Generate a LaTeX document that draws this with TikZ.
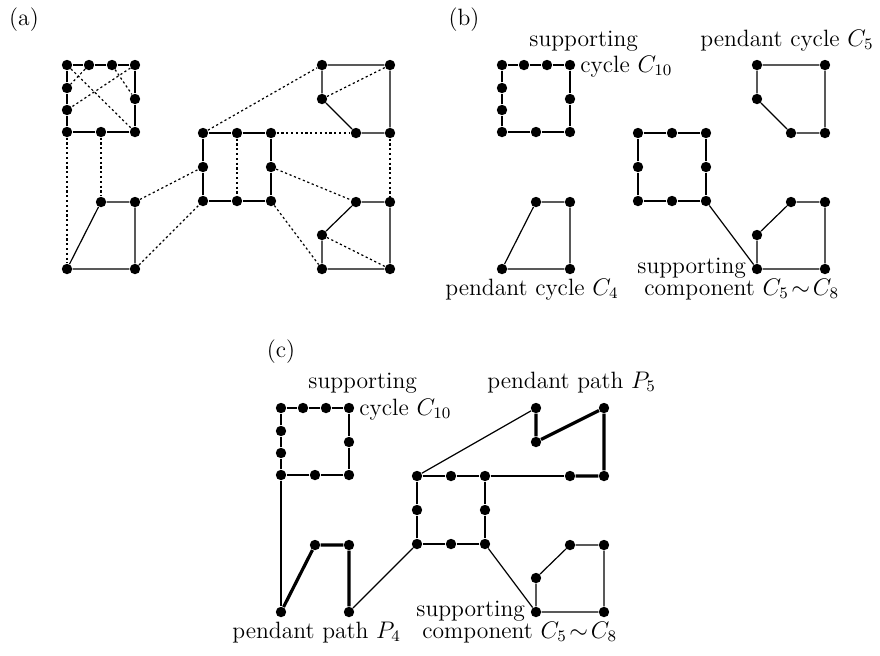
\documentclass[tikz,border=0pt]{standalone}
\tikzset{
  v/.style={circle,fill=black,inner sep=0pt,minimum size=5.2pt},
  e/.style={line width=0.6pt},
  dt/.style={line width=0.6pt,dash pattern=on 1.1pt off 1.3pt},
  tk/.style={line width=1.6pt},
  lab/.style={anchor=base west,inner sep=0pt,font=\fontsize{11.8}{14}\selectfont},
  plab/.style={inner sep=0pt,font=\fontsize{11.8}{14}\selectfont},
}
\newcommand\mkverts[1]{%
  \node[v] (#1t1) at (67,65) {};
  \node[v] (#1t2) at (89,65) {};
  \node[v] (#1t3) at (112,65) {};
  \node[v] (#1t4) at (135,65) {};
  \node[v] (#1t5) at (135,99) {};
  \node[v] (#1t6) at (135,132) {};
  \node[v] (#1t7) at (101,132) {};
  \node[v] (#1t8) at (67,132) {};
  \node[v] (#1t9) at (67,110) {};
  \node[v] (#1t10) at (67,88) {};
  \node[v] (#1m1) at (203,133) {};
  \node[v] (#1m2) at (237,133) {};
  \node[v] (#1m3) at (271,133) {};
  \node[v] (#1m4) at (271,167) {};
  \node[v] (#1m5) at (271,201) {};
  \node[v] (#1m6) at (237,201) {};
  \node[v] (#1m7) at (203,201) {};
  \node[v] (#1m8) at (203,167) {};
  \node[v] (#1r1) at (322,65) {};
  \node[v] (#1r2) at (390,65) {};
  \node[v] (#1r3) at (390,133) {};
  \node[v] (#1r4) at (356,133) {};
  \node[v] (#1r5) at (322,99) {};
  \node[v] (#1l1) at (101,202) {};
  \node[v] (#1l2) at (135,202) {};
  \node[v] (#1l3) at (135,269) {};
  \node[v] (#1l4) at (67,269) {};
  \node[v] (#1s1) at (356,202) {};
  \node[v] (#1s2) at (390,202) {};
  \node[v] (#1s3) at (390,269) {};
  \node[v] (#1s4) at (322,269) {};
  \node[v] (#1s5) at (322,235) {};
}
\newcommand\tlcycle[1]{\draw[e] (#1t1)--(#1t2)--(#1t3)--(#1t4)--(#1t5)--(#1t6)--(#1t7)--(#1t8)--(#1t9)--(#1t10)--(#1t1);}
\newcommand\midcycle[1]{\draw[e] (#1m1)--(#1m2)--(#1m3)--(#1m4)--(#1m5)--(#1m6)--(#1m7)--(#1m8)--(#1m1);}
\newcommand\trcycle[1]{\draw[e] (#1r1)--(#1r2)--(#1r3)--(#1r4)--(#1r5)--(#1r1);}
\newcommand\blcycle[1]{\draw[e] (#1l1)--(#1l2)--(#1l3)--(#1l4)--(#1l1);}
\newcommand\brcycle[1]{\draw[e] (#1s1)--(#1s2)--(#1s3)--(#1s4)--(#1s5)--(#1s1);}
\begin{document}
\begin{tikzpicture}[x=0.5pt,y=-0.5pt]
\useasboundingbox (0,0) rectangle (880,655);
% ---------- (a)
\node[plab] (pa) at (24,20) {(a)};
\mkverts{a}
\tlcycle{a}\midcycle{a}\trcycle{a}\blcycle{a}\brcycle{a}
\draw[dt] (at1)--(at6);
\draw[dt] (at2)--(at10);
\draw[dt] (at3)--(at5);
\draw[dt] (at4)--(at9);
\draw[dt] (at8)--(al4);
\draw[dt] (at7)--(al1);
\draw[dt] (al2)--(am8);
\draw[dt] (al3)--(am7);
\draw[dt] (am1)--(ar1);
\draw[dt] (am2)--(am6);
\draw[dt] (am3)--(ar4);
\draw[dt] (am4)--(as1);
\draw[dt] (am5)--(as4);
\draw[dt] (ar5)--(ar2);
\draw[dt] (ar3)--(as2);
\draw[dt] (as5)--(as3);
% ---------- (b)
\node[plab] (pb) at (464,20) {(b)};
\begin{scope}[shift={(435,0)}]
\mkverts{b}
\end{scope}
\tlcycle{b}\midcycle{b}\trcycle{b}\blcycle{b}\brcycle{b}
\draw[e] (bm5)--(bs4);
\node[lab] (b1) at (529,46) {supporting};
\node[lab] (b2) at (580,72) {cycle $C_{10}$};
\node[lab] (b3) at (700,46) {pendant cycle $C_5$};
\node[lab] (b4) at (637,273) {supporting};
\node[lab] (b5) at (644,295) {component $C_5\!\sim\!C_8$};
\node[lab] (b6) at (445,295) {pendant cycle $C_4$};
% ---------- (c)
\node[plab] (pc) at (281,352) {(c)};
\begin{scope}[shift={(214,343)}]
\mkverts{c}
\end{scope}
\tlcycle{c}\midcycle{c}\brcycle{c}
\draw[e] (ct8)--(cl4);
\draw[e] (cl3)--(cm7);
\draw[e] (cm1)--(cr1);
\draw[e] (cm3)--(cr4);
\draw[e] (cm5)--(cs4);
\draw[tk] (cl4)--(cl1)--(cl2)--(cl3);
\draw[tk] (cr1)--(cr5)--(cr2)--(cr3)--(cr4);
\node[lab] (c1) at (308,388) {supporting};
\node[lab] (c2) at (359,415) {cycle $C_{10}$};
\node[lab] (c3) at (487,388) {pendant path $P_5$};
\node[lab] (c4) at (416,616) {supporting};
\node[lab] (c5) at (422,638) {component $C_5\!\sim\!C_8$};
\node[lab] (c6) at (232,638) {pendant path $P_4$};
\end{tikzpicture}
\end{document}
